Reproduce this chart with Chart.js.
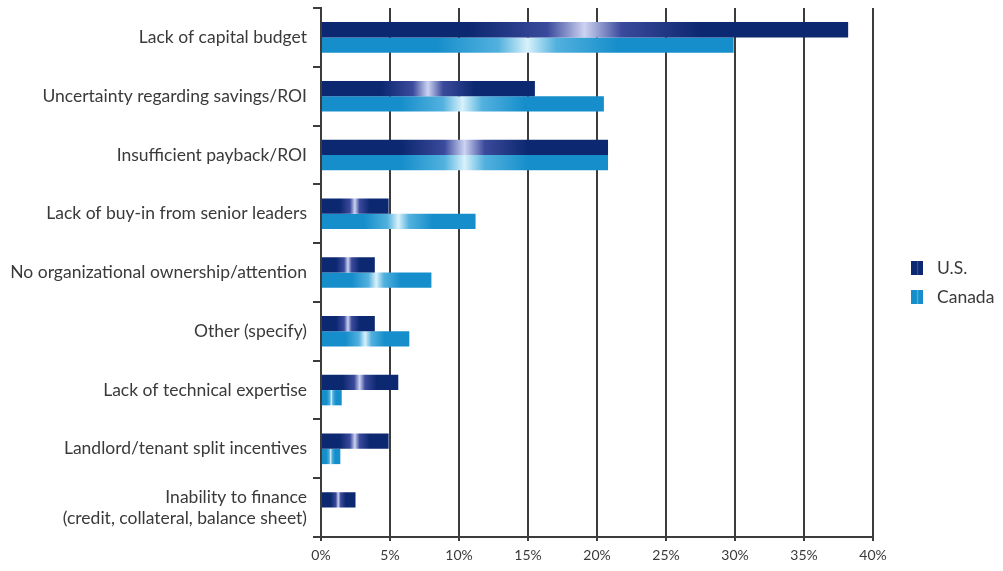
<!DOCTYPE html>
<html lang="en">
<head>
  <meta charset="UTF-8">
  <title>Barriers to investment - U.S. vs Canada</title>
  <script src="https://cdn.jsdelivr.net/npm/chart.js"></script>
  <style>
    body {
      margin: 0;
      background: #ffffff;
    }

    .chart-wrap {
      position: relative;
      width: 1003px;
      height: 571px;
    }
  </style>
</head>
<body>

  <div class="chart-wrap">
    <canvas id="barrierChart" width="1003" height="571"></canvas>
  </div>

  <script>
    // Data (percent of respondents)
    const categories = [
      'Lack of capital budget',
      'Uncertainty regarding savings/ROI',
      'Insufficient payback/ROI',
      'Lack of buy-in from senior leaders',
      'No organizational ownership/attention',
      'Other (specify)',
      'Lack of technical expertise',
      'Landlord/tenant split incentives',
      ['Inability to finance', '(credit, collateral, balance sheet)']
    ];
    const usValues = [38.2, 15.5, 20.8, 4.9, 3.9, 3.9, 5.6, 4.9, 2.5];
    const canadaValues = [29.9, 20.5, 20.8, 11.2, 8.0, 6.4, 1.5, 1.4, 0];
    const seriesNames = ['U.S.', 'Canada'];
    const xMax = 40;
    const xStep = 5;

    const textColor = '#3a3a3a';
    const axisColor = '#3c3c3c';
    const fontFamily = "Lato, sans-serif";

    // base colour, mid-tone and highlight for each series
    const palettes = [
      { base: '#0c2870', mid: '#3b4a9c', light: '#cdd3f2' },
      { base: '#168ecb', mid: '#52b1de', light: '#d8f1fb' }
    ];

    // shiny horizontal gradient, highlight in the middle of each bar
    function barGradient(ctx, pal) {
      const chart = ctx.chart;
      if (!chart.chartArea || ctx.type !== 'data') return pal.base;
      const x = chart.scales.x;
      const x0 = x.getPixelForValue(0);
      const x1 = x.getPixelForValue(ctx.raw || 0.0001);
      const g = chart.ctx.createLinearGradient(x0, 0, x1, 0);
      g.addColorStop(0, pal.base);
      g.addColorStop(0.28, pal.base);
      g.addColorStop(0.43, pal.mid);
      g.addColorStop(0.5, pal.light);
      g.addColorStop(0.57, pal.mid);
      g.addColorStop(0.72, pal.base);
      g.addColorStop(1, pal.base);
      return g;
    }

    // legend on the right, drawn by hand so it sits where the original one does
    const sideLegend = {
      id: 'sideLegend',
      afterDraw(chart) {
        const c = chart.ctx;
        const left = 911;
        const tops = [261, 290];
        c.save();
        chart.data.datasets.forEach((ds, i) => {
          const pal = palettes[i];
          const g = c.createLinearGradient(left, 0, left + 12, 0);
          g.addColorStop(0, pal.base);
          g.addColorStop(0.45, pal.base);
          g.addColorStop(0.55, pal.mid);
          g.addColorStop(0.65, pal.base);
          g.addColorStop(1, pal.base);
          c.fillStyle = g;
          c.fillRect(left, tops[i], 12, 14);
          c.fillStyle = textColor;
          c.font = '17.5px ' + fontFamily;
          c.textBaseline = 'middle';
          c.textAlign = 'left';
          c.fillText(ds.label, left + 26, tops[i] + 7);
        });
        c.restore();
      }
    };

    const chartCtx = document.getElementById('barrierChart').getContext('2d');
    new Chart(chartCtx, {
      type: 'bar',
      data: {
        labels: categories,
        datasets: [
          {
            label: seriesNames[0],
            data: usValues,
            backgroundColor: (ctx) => barGradient(ctx, palettes[0])
          },
          {
            label: seriesNames[1],
            data: canadaValues,
            backgroundColor: (ctx) => barGradient(ctx, palettes[1])
          }
        ]
      },
      options: {
        indexAxis: 'y',
        responsive: false,
        animation: false,
        categoryPercentage: 0.52,
        barPercentage: 1,
        layout: {
          padding: { top: 8, right: 130, bottom: 0, left: 0 }
        },
        plugins: {
          legend: { display: false },
          tooltip: { enabled: false }
        },
        scales: {
          x: {
            min: 0,
            max: xMax,
            afterFit(scale) { scale.height = 34; },
            border: { color: axisColor, width: 2 },
            grid: {
              color: axisColor,
              lineWidth: 2,
              tickLength: 4
            },
            ticks: {
              stepSize: xStep,
              padding: 6,
              color: textColor,
              font: { family: fontFamily, size: 14 },
              callback: (v) => v + '%'
            }
          },
          y: {
            afterFit(scale) {
              scale.width = 321;
              scale.paddingTop = 0;
              scale.paddingBottom = 0;
            },
            border: { color: axisColor, width: 2 },
            grid: {
              offset: true,
              drawOnChartArea: false,
              color: axisColor,
              lineWidth: 2,
              tickLength: 8
            },
            ticks: {
              padding: 6,
              color: textColor,
              font: { family: fontFamily, size: 17.5, lineHeight: 1.2 }
            }
          }
        }
      },
      plugins: [sideLegend]
    });
  </script>

</body>
</html>
